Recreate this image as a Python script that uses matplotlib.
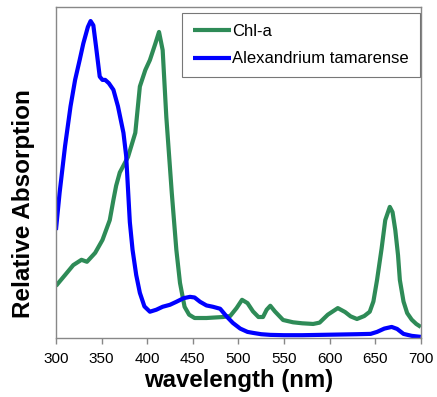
import matplotlib
matplotlib.use("Agg")
import matplotlib.pyplot as plt

plt.rcParams['font.family'] = ['Liberation Sans', 'DejaVu Sans']

# Chlorophyll-a absorption spectrum
chl_wl = [300, 310, 319, 328, 334, 343, 351, 359, 363, 366, 370, 379, 387, 392,
          398, 403, 409, 413, 417, 421, 427, 432, 436, 441, 446, 452, 465, 483,
          491, 498, 504, 510, 516, 522, 527, 531, 535, 540, 549, 560, 570, 582,
          589, 598, 609, 617, 623, 630, 638, 644, 648, 652, 657, 661, 666, 669,
          672, 675, 677, 681, 685, 690, 695, 700]
chl_abs = [0.157, 0.19, 0.22, 0.236, 0.23, 0.257, 0.296, 0.356, 0.417, 0.46,
           0.50, 0.547, 0.62, 0.76, 0.81, 0.84, 0.89, 0.925, 0.87, 0.668,
           0.438, 0.266, 0.166, 0.094, 0.07, 0.06, 0.06, 0.063, 0.066, 0.09,
           0.115, 0.105, 0.08, 0.063, 0.063, 0.085, 0.097, 0.08, 0.054, 0.047,
           0.044, 0.042, 0.046, 0.07, 0.09, 0.078, 0.065, 0.057, 0.066, 0.079,
           0.11, 0.175, 0.27, 0.356, 0.396, 0.38, 0.326, 0.25, 0.175, 0.11,
           0.075, 0.055, 0.042, 0.033]

# Alexandrium tamarense absorption spectrum
alex_wl = [300, 304, 310, 316, 321, 326, 330, 335, 338, 341, 344, 348, 351, 354,
           358, 363, 368, 374, 377, 379, 381, 384, 388, 392, 397, 403, 410, 417,
           425, 432, 440, 447, 452, 458, 465, 472, 480, 487, 494, 502, 510, 516,
           525, 535, 550, 570, 590, 610, 630, 645, 652, 660, 668, 674, 681, 690,
           700]
alex_abs = [0.326, 0.438, 0.58, 0.70, 0.78, 0.84, 0.89, 0.94, 0.958, 0.945,
            0.88, 0.79, 0.78, 0.78, 0.77, 0.75, 0.70, 0.62, 0.55, 0.45, 0.35,
            0.266, 0.19, 0.136, 0.095, 0.079, 0.085, 0.094, 0.10, 0.109, 0.12,
            0.124, 0.122, 0.109, 0.098, 0.094, 0.088, 0.065, 0.045, 0.028,
            0.018, 0.015, 0.011, 0.009, 0.008, 0.008, 0.009, 0.010, 0.011,
            0.012, 0.018, 0.028, 0.033, 0.027, 0.012, 0.006, 0.003]

x_ticks = [300, 350, 400, 450, 500, 550, 600, 650, 700]

fig = plt.figure(figsize=(4.37, 3.97), dpi=100)
ax = fig.add_axes([0.128, 0.149, 0.835, 0.833])

ax.plot(chl_wl, chl_abs, color='#2E8B57', lw=3, label='Chl-a',
        solid_joinstyle='round', solid_capstyle='butt')
ax.plot(alex_wl, alex_abs, color='#0000FF', lw=3, label='Alexandrium tamarense',
        solid_joinstyle='round', solid_capstyle='butt')

ax.set_xlim(300, 700)
ax.set_ylim(0, 1)
ax.set_xticks(x_ticks)
ax.set_xticklabels([str(t) for t in x_ticks], fontsize=11)
ax.set_yticks([])
ax.tick_params(axis='x', direction='out', length=4, width=1, color='#888888', pad=6)

for s in ax.spines.values():
    s.set_color('#888888')
    s.set_linewidth(1)

ax.set_xlabel('wavelength (nm)', fontsize=17.3, fontweight='bold')
ax.xaxis.set_label_coords(0.501, -0.095)
ax.set_ylabel('Relative Absorption', fontsize=17.5, fontweight='bold')
ax.yaxis.set_label_coords(-0.0575, 0.405)

leg = ax.legend(loc='upper right', bbox_to_anchor=(0.997, 0.982), fontsize=12,
                frameon=True, fancybox=False, edgecolor='#555555',
                handlelength=2.3, handletextpad=0.05, borderpad=0.65,
                labelspacing=0.75, borderaxespad=0)
leg.get_frame().set_linewidth(0.8)

fig.savefig('out.png', dpi=100)
